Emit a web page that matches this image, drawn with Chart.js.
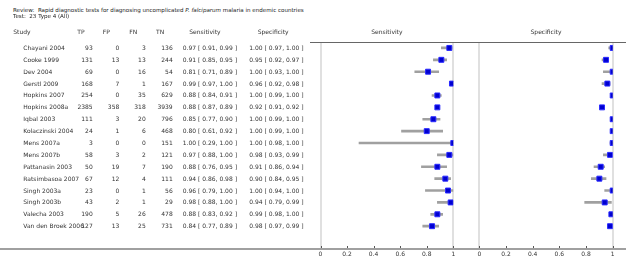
<!DOCTYPE html>
<html><head><meta charset="utf-8">
<script src="https://cdn.jsdelivr.net/npm/chart.js@4.4.1/dist/chart.umd.min.js"></script>
<style>
html,body{margin:0;padding:0;background:#fff;}
#wrap{position:relative;width:626px;height:272px;overflow:hidden;font-family:'DejaVu Sans',sans-serif;font-size:6px;color:#333;}
.t{position:absolute;white-space:pre;line-height:8px;height:8px;}
canvas{position:absolute;top:0;}
.ln{position:absolute;}
</style></head>
<body><div id="wrap">
<canvas id="cs" width="160" height="272" style="left:305px"></canvas>
<canvas id="cp" width="161" height="272" style="left:465px"></canvas>
</div>
<script>
const studies = ["Chayani 2004","Cooke 1999","Dev 2004","Gerstl 2009","Hopkins 2007","Hopkins 2008a","Iqbal 2003","Kolaczinski 2004","Mens 2007a","Mens 2007b","Pattanasin 2003","Ratsimbasoa 2007","Singh 2003a","Singh 2003b","Valecha 2003","Van den Broek 2006"];
const tp = [93,131,69,168,254,2385,111,24,3,58,50,67,23,43,190,127];
const fp = [0,13,0,7,0,358,3,1,0,3,19,12,0,2,5,13];
const fn = [3,13,16,1,35,318,20,6,0,2,7,4,1,1,26,25];
const tn = [136,244,54,167,629,3939,796,468,151,121,190,111,56,29,478,731];
const sens   = [0.97,0.91,0.81,0.99,0.88,0.88,0.85,0.80,1.00,0.97,0.88,0.94,0.96,0.98,0.88,0.84];
const sensLo = [0.91,0.85,0.71,0.97,0.84,0.87,0.77,0.61,0.29,0.88,0.76,0.86,0.79,0.88,0.83,0.77];
const sensHi = [0.99,0.95,0.89,1.00,0.91,0.89,0.90,0.92,1.00,1.00,0.95,0.98,1.00,1.00,0.92,0.89];
const spec   = [1.00,0.95,1.00,0.96,1.00,0.92,1.00,1.00,1.00,0.98,0.91,0.90,1.00,0.94,0.99,0.98];
const specLo = [0.97,0.92,0.93,0.92,0.99,0.91,0.99,0.99,0.98,0.93,0.86,0.84,0.94,0.79,0.98,0.97];
const specHi = [1.00,0.97,1.00,0.98,1.00,0.92,1.00,1.00,1.00,0.99,0.94,0.95,1.00,0.99,1.00,0.99];
const xTicks = [0,0.2,0.4,0.6,0.8,1];
const titleText = "Review:  Rapid diagnostic tests for diagnosing uncomplicated ";
const titleItalic = "P. falciparum";
const titleEnd = " malaria in endemic countries";
const testText = "Test:  23 Type 4 (All)";
const colHeaders = ["Study","TP","FP","FN","TN","Sensitivity","Specificity"];
const panelTitles = ["Sensitivity","Specificity"];

const tickMarks = {
  id:'tickMarks',
  afterDraw(chart){
    const ctx=chart.ctx, s=chart.scales.x, b=chart.chartArea.bottom;
    ctx.save(); ctx.strokeStyle='#555'; ctx.lineWidth=1;
    s.ticks.forEach(t=>{
      const x=Math.round(s.getPixelForValue(t.value))+0.5;
      ctx.beginPath(); ctx.moveTo(x,b-3); ctx.lineTo(x,b); ctx.stroke();
    });
    ctx.restore();
  }
};

function makeChart(id, est, lo, hi, padL, padR){
  return new Chart(document.getElementById(id), {
    type:'bar',
    data:{datasets:[
      {type:'bar', indexAxis:'y', data: est.map((v,i)=>({y:i, x:[lo[i],hi[i]]})),
       backgroundColor:'#a0a0a0', borderWidth:0, barThickness:2, order:2},
      {type:'scatter', indexAxis:'x', data: est.map((v,i)=>({x:v, y:i})),
       pointStyle:'rect', pointRadius:3.5, backgroundColor:'#0000d0', borderColor:'#2a2aff',
       borderWidth:1, clip:0, order:1}
    ]},
    options:{
      indexAxis:'y', responsive:false, animation:false, events:[],
      layout:{padding:{top:42,left:padL,right:padR,bottom:11}},
      plugins:{legend:{display:false},tooltip:{enabled:false}},
      scales:{
        x:{type:'linear', axis:'x', min:0, max:1, offset:false,
           afterBuildTicks:s=>{ s.ticks = xTicks.map(v=>({value:v})); },
           afterFit:s=>{ s.height=12; },
           grid:{offset:false, color:c=> (c.tick && (c.tick.value===0||c.tick.value===1))?'#e0e0e0':'rgba(0,0,0,0)', lineWidth:2, drawTicks:false},
           border:{display:false},
           ticks:{font:{family:'DejaVu Sans',size:6}, color:'#333', padding:2, autoSkip:false, maxRotation:0,
                  callback:v=>String(v)}},
        y:{type:'linear', axis:'y', min:-0.5, max:16.92, reverse:true, offset:false, grid:{offset:false}, display:false}
      }
    },
    plugins:[tickMarks]
  });
}

const chS = makeChart('cs', sens, sensLo, sensHi, 15.5, 11.7);
const chP = makeChart('cp', spec, specLo, specHi, 14.3, 13.3);

const wrap = document.getElementById('wrap');
function addText(txt, x, yc, align, extra){
  const d=document.createElement('div'); d.className='t';
  d.textContent = txt;
  d.style.top=(yc-4)+'px';
  if(align==='right'){ d.style.right=(626-x)+'px'; d.style.textAlign='right'; }
  else if(align==='center'){ d.style.left=(x-60)+'px'; d.style.width='120px'; d.style.textAlign='center'; }
  else d.style.left=x+'px';
  if(extra) Object.assign(d.style, extra);
  wrap.appendChild(d); return d;
}
// title
const t1=addText('', 13, 10, 'left', {color:'#222', fontSize:'5.55px'});
t1.appendChild(document.createTextNode(titleText));
const it=document.createElement('i'); it.textContent=titleItalic; t1.appendChild(it);
t1.appendChild(document.createTextNode(titleEnd));
addText(testText, 13, 15.5, 'left', {color:'#222', fontSize:'5.55px'});
// headers
const hx=[13.3,77.3,102.7,129.3,156,189.3,257.7];
colHeaders.forEach((h,i)=>addText(h, hx[i], 32, 'left'));
const aS=chS.chartArea, aP=chP.chartArea;
addText(panelTitles[0], 305+(aS.left+aS.right)/2, 32, 'center');
addText(panelTitles[1], 465+(aP.left+aP.right)/2, 32, 'center');
// rows
const ys=chS.scales.y;
const f=v=>v.toFixed(2);
studies.forEach((s,i)=>{
  const y=ys.getPixelForValue(i);
  addText(s, 23.3, y, 'left');
  addText(String(tp[i]), 92.7, y, 'right');
  addText(String(fp[i]), 119.3, y, 'right');
  addText(String(fn[i]), 145.7, y, 'right');
  addText(String(tn[i]), 172.7, y, 'right');
  addText(f(sens[i])+' [ '+f(sensLo[i])+', '+f(sensHi[i])+' ]', 182.7, y, 'left');
  addText(f(spec[i])+' [ '+f(specLo[i])+', '+f(specHi[i])+' ]', 249.3, y, 'left');
});
// lines
function addLine(l,t,w,h,c){const d=document.createElement('div');d.className='ln';
  Object.assign(d.style,{left:l+'px',top:t+'px',width:w+'px',height:h+'px',background:c});wrap.appendChild(d);}
addLine(310, 42, 316, 1, '#666');
addLine(0, 248, 626, 2, '#a0a0a0');
</script>
</body></html>
